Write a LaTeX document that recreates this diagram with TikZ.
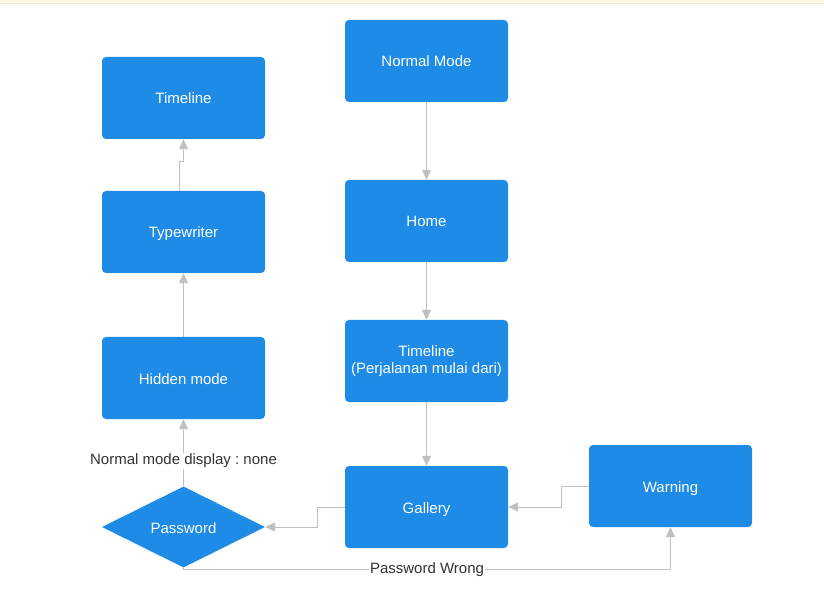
\documentclass[tikz,border=0pt]{standalone}
\usepackage{fontspec}
\setmainfont{Liberation Sans}
\usepackage{xcolor}
\usepackage{tikz}
\usetikzlibrary{arrows.meta,shapes.geometric}

\definecolor{flowblue}{RGB}{30,139,230}
\definecolor{linkgray}{RGB}{192,192,192}
\definecolor{bandyellow}{RGB}{255,248,228}

\begin{document}
\begin{tikzpicture}[x=1pt, y=-1pt, >={Triangle[width=9pt,length=10pt]},
    box/.style={fill=flowblue, rounded corners=4pt, minimum width=163pt,
      minimum height=82pt, inner sep=0pt, text=white, align=center,
      text height=13pt, text depth=1pt,
      font=\fontsize{15}{17}\selectfont},
    decision/.style={diamond, fill=flowblue, minimum width=163pt,
      minimum height=81pt, inner sep=0pt, text=white,
      text height=13pt, text depth=1pt,
      font=\fontsize{15}{17}\selectfont},
    link/.style={draw=linkgray, line width=1pt, ->},
    tag/.style={fill=white, inner sep=1pt, text=black!80,
      font=\fontsize{15}{17}\selectfont\frenchspacing}]
  % page size and top band
  \useasboundingbox (0,0) rectangle (824,593);
  \fill[bandyellow] (0,0) rectangle (824,3);
  \draw[bandyellow!80!black!30!bandyellow] (0,3.5) -- (824,3.5);

  % Main flow (right column)
  \node[box] (normal) at (426.5,61) {Normal Mode};
  \node[box] (home) at (426.5,221) {Home};
  \node[box, text height=, text depth=] (journey) at (426.5,361) {Timeline\\(Perjalanan mulai dari)};
  \node[box] (gallery) at (426.5,507) {Gallery};
  \node[box] (warning) at (670.5,486) {Warning};

  % Hidden flow (left column)
  \node[box] (hiddentl) at (183.5,98) {Timeline};
  \node[box] (typewriter) at (183.5,232) {Typewriter};
  \node[box] (hidden) at (183.5,378) {Hidden mode};
  \node[decision] (password) at (183.5,527) {Password};

  % Connectors
  \draw[link] (normal) -- (home);
  \draw[link] (home) -- (journey);
  \draw[link] (journey) -- (gallery);
  \draw[link] (gallery.west) -- ++(-27,0) |- (password.east);
  \draw[link] (warning.west) -- ++(-27,0) |- (gallery.east);
  \draw[link] (password.north) -- node[tag, pos=0.38] {Normal mode display : none} (hidden.south);
  \draw[link] (hidden) -- (typewriter);
  \draw[link] ([xshift=-4pt]typewriter.north) -- ++(0,-29) -| (hiddentl.south);
  \draw[link] (password.south) -- ++(0,1.5) -| node[tag, pos=0.25] {Password Wrong} (warning.south);
\end{tikzpicture}
\end{document}
